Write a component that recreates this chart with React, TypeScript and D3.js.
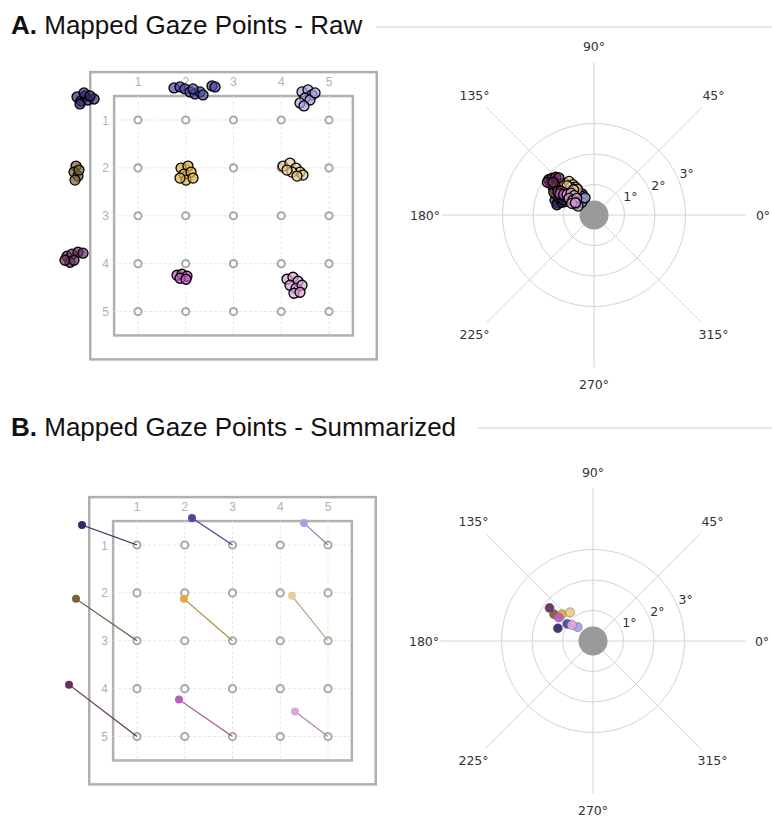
import React from "react";
import * as d3 from "d3";

// ---------- DATA ----------
const gridIdx = [1, 2, 3, 4, 5];
const groupNames = ["navy", "blue", "lightblue", "brown", "gold", "lightgold", "purple", "magenta", "pink"];
const groupColors = ["#2f2c68", "#4c4aa6", "#a3a3e0", "#7a6232", "#dcae40", "#e9cc8e", "#6b2d5e", "#bf5cbf", "#e0a2dc"];
const targetCol = [1, 3, 5, 1, 3, 5, 1, 3, 5];
const targetRow = [1, 1, 1, 3, 3, 3, 5, 5, 5];

// raw gaze points (grid units: column, row)
const rawNavy = [[-0.277, 0.519], [-0.194, 0.603], [-0.11, 0.498], [-0.215, 0.665], [-0.047, 0.582], [0.079, 0.561], [-0.131, 0.435], [-0.005, 0.498]];
const rawBlue = [[1.754, 0.331], [1.88, 0.31], [1.984, 0.351], [2.089, 0.414], [2.194, 0.456], [2.298, 0.414], [2.361, 0.477], [2.152, 0.351], [2.55, 0.289], [2.613, 0.31]];
const rawLightBlue = [[4.435, 0.414], [4.56, 0.372], [4.644, 0.477], [4.497, 0.54], [4.602, 0.582], [4.393, 0.644], [4.707, 0.435], [4.476, 0.707]];
const rawBrown = [[-0.298, 1.962], [-0.34, 2.088], [-0.257, 2.172], [-0.319, 2.255], [-0.236, 2.046]];
const rawGold = [[1.901, 2.004], [2.047, 1.962], [1.963, 2.13], [2.11, 2.088], [2.005, 2.255], [1.88, 2.213], [2.152, 2.213]];
const rawLightGold = [[4.037, 1.962], [4.183, 1.9], [4.309, 2.004], [4.393, 2.088], [4.225, 2.088], [4.12, 2.046], [4.455, 2.151], [4.33, 2.172]];
const rawPurple = [[-0.487, 3.845], [-0.382, 3.803], [-0.257, 3.762], [-0.152, 3.782], [-0.424, 3.971], [-0.529, 3.929], [-0.34, 3.929]];
const rawMagenta = [[1.817, 4.243], [1.921, 4.222], [2.026, 4.264], [1.88, 4.305], [2.005, 4.326]];
const rawPink = [[4.12, 4.326], [4.246, 4.285], [4.351, 4.368], [4.183, 4.452], [4.309, 4.515], [4.435, 4.452], [4.267, 4.619], [4.393, 4.598]];
const rawGroups = [rawNavy, rawBlue, rawLightBlue, rawBrown, rawGold, rawLightGold, rawPurple, rawMagenta, rawPink];

// summarized gaze points (grid units)
const sumCol = [-0.152, 2.152, 4.497, -0.277, 1.984, 4.246, -0.424, 1.88, 4.309];
const sumRow = [0.583, 0.4375, 0.542, 2.125, 2.125, 2.0625, 3.917, 4.229, 4.479];

const polarAngles = [0, 45, 90, 135, 180, 225, 270, 315];
const polarRings = [1, 2, 3];

// ---------- LAYOUT ----------
const W = 772, H = 816;
const titleFont = "'Liberation Sans', Arial, Helvetica, sans-serif";
const polarFont = "'DejaVu Sans', sans-serif";

function GridPanel({ ox, oy, children }: { ox: number; oy: number; children?: any }) {
  const x = d3.scaleLinear().domain([1, 5]).range([ox, ox + 191]);
  const y = d3.scaleLinear().domain([1, 5]).range([oy, oy + 191.5]);
  return (
    <g>
      <rect x={x(0)} y={y(0)} width={x(6) - x(0)} height={y(6) - y(0)} fill="none" stroke="#b0b0b0" strokeWidth={2.5} />
      <rect x={x(0.5)} y={y(0.5)} width={x(5.5) - x(0.5)} height={y(5.5) - y(0.5)} fill="none" stroke="#b0b0b0" strokeWidth={2.5} />
      {gridIdx.map((g) => (
        <g key={"g" + g}>
          <line x1={x(g)} x2={x(g)} y1={y(0.5)} y2={y(5.5)} stroke="#e6e6e6" strokeWidth={1} strokeDasharray="3,2" />
          <line x1={x(0.5)} x2={x(5.5)} y1={y(g)} y2={y(g)} stroke="#e6e6e6" strokeWidth={1} strokeDasharray="3,2" />
          <text x={x(g)} y={y(0.3)} textAnchor="middle" fontSize={12} fill="#b0b0b0" fontFamily={titleFont}>{g}</text>
          <text x={x(0.32)} y={y(g) + 4.5} textAnchor="middle" fontSize={12} fill="#b0b0b0" fontFamily={titleFont}>{g}</text>
        </g>
      ))}
      {gridIdx.map((r) =>
        gridIdx.map((c) => (
          <circle key={"t" + r + c} cx={x(c)} cy={y(r)} r={3.6} fill="#fff" stroke="#a8a8a8" strokeWidth={2} />
        ))
      )}
      {children && children(x, y)}
    </g>
  );
}

function PolarPanel({ cx, cy, points }: { cx: number; cy: number; points: any[] }) {
  const r = d3.scaleLinear().domain([0, 1]).range([0, 30.5]);
  const pt = (ang: number, rad: number) => [cx + rad * Math.cos((ang * Math.PI) / 180), cy - rad * Math.sin((ang * Math.PI) / 180)];
  return (
    <g>
      {polarAngles.map((a) => {
        const [x2, y2] = pt(a, r(5));
        const [lx, ly] = pt(a, 169);
        return (
          <g key={"a" + a}>
            <line x1={cx} y1={cy} x2={x2} y2={y2} stroke="#d4d4d4" strokeWidth={1} />
            <text x={lx} y={ly + 4.5} textAnchor="middle" fontSize={12.5} fill="#333" fontFamily={polarFont}>{a}°</text>
          </g>
        );
      })}
      {polarRings.map((k) => {
        const [lx, ly] = pt(22.5, r(k));
        return (
          <g key={"r" + k}>
            <circle cx={cx} cy={cy} r={r(k)} fill="none" stroke="#d4d4d4" strokeWidth={1} />
            <text x={lx + 1} y={ly - 2} fontSize={12.5} fill="#333" fontFamily={polarFont}>{k}°</text>
          </g>
        );
      })}
      <circle cx={cx} cy={cy} r={14.5} fill="#9a9a9a" />
      {points.map((p, i) => {
        const [px, py] = [cx + r(p.dx), cy - r(p.dy)];
        return <circle key={"p" + i} cx={px} cy={py} r={p.rad} fill={p.color} fillOpacity={p.fo} stroke={p.stroke} strokeWidth={p.sw} />;
      })}
    </g>
  );
}

export default function App() {
  const rawPolar: any[] = [];
  rawGroups.forEach((grp, gi) =>
    grp.forEach(([u, v]) =>
      rawPolar.push({ dx: u - targetCol[gi], dy: -(v - targetRow[gi]), color: groupColors[gi], stroke: "#000", sw: 1.3, rad: 5, fo: 0.7 })
    )
  );
  const sumPolar = groupNames.map((_, gi) => ({
    dx: sumCol[gi] - targetCol[gi],
    dy: -(sumRow[gi] - targetRow[gi]),
    color: groupColors[gi],
    stroke: "#777",
    sw: 0.6,
    rad: 4.6,
    fo: 0.95,
  }));

  return (
    <svg width={W} height={H} style={{ position: "absolute", left: 0, top: 0, background: "#fff" }}>
      <rect width={W} height={H} fill="#fff" />
      {/* Titles */}
      <text x={11} y={34} fontSize={26} fontFamily={titleFont} fill="#111">
        <tspan fontWeight="bold">A.</tspan>
        <tspan> Mapped Gaze Points - Raw</tspan>
      </text>
      <line x1={376} x2={772} y1={27} y2={27} stroke="#cfcfcf" strokeWidth={1.2} />
      <text x={11} y={436} fontSize={26} fontFamily={titleFont} fill="#111">
        <tspan fontWeight="bold">B.</tspan>
        <tspan> Mapped Gaze Points - Summarized</tspan>
      </text>
      <line x1={478} x2={772} y1={428} y2={428} stroke="#cfcfcf" strokeWidth={1.2} />

      {/* Panel A grid */}
      <GridPanel ox={138} oy={120}>
        {(x: any, y: any) =>
          rawGroups.map((grp, gi) =>
            grp.map(([u, v], i) => (
              <circle key={"raw" + gi + "-" + i} cx={x(u)} cy={y(v)} r={5} fill={groupColors[gi]} fillOpacity={0.7} stroke="#000" strokeWidth={1.3} />
            ))
          )
        }
      </GridPanel>
      <PolarPanel cx={594} cy={215} points={rawPolar} />

      {/* Panel B grid */}
      <GridPanel ox={137} oy={545}>
        {(x: any, y: any) =>
          groupNames.map((_, gi) => (
            <g key={"s" + gi}>
              <line x1={x(sumCol[gi])} y1={y(sumRow[gi])} x2={x(targetCol[gi])} y2={y(targetRow[gi])} stroke={groupColors[gi]} strokeWidth={1.1} />
              <line x1={x(sumCol[gi])} y1={y(sumRow[gi])} x2={x(targetCol[gi])} y2={y(targetRow[gi])} stroke="#555" strokeOpacity={0.35} strokeWidth={1.1} />
              <circle cx={x(sumCol[gi])} cy={y(sumRow[gi])} r={4} fill={groupColors[gi]} />
            </g>
          ))
        }
      </GridPanel>
      <PolarPanel cx={593} cy={641} points={sumPolar} />
    </svg>
  );
}
